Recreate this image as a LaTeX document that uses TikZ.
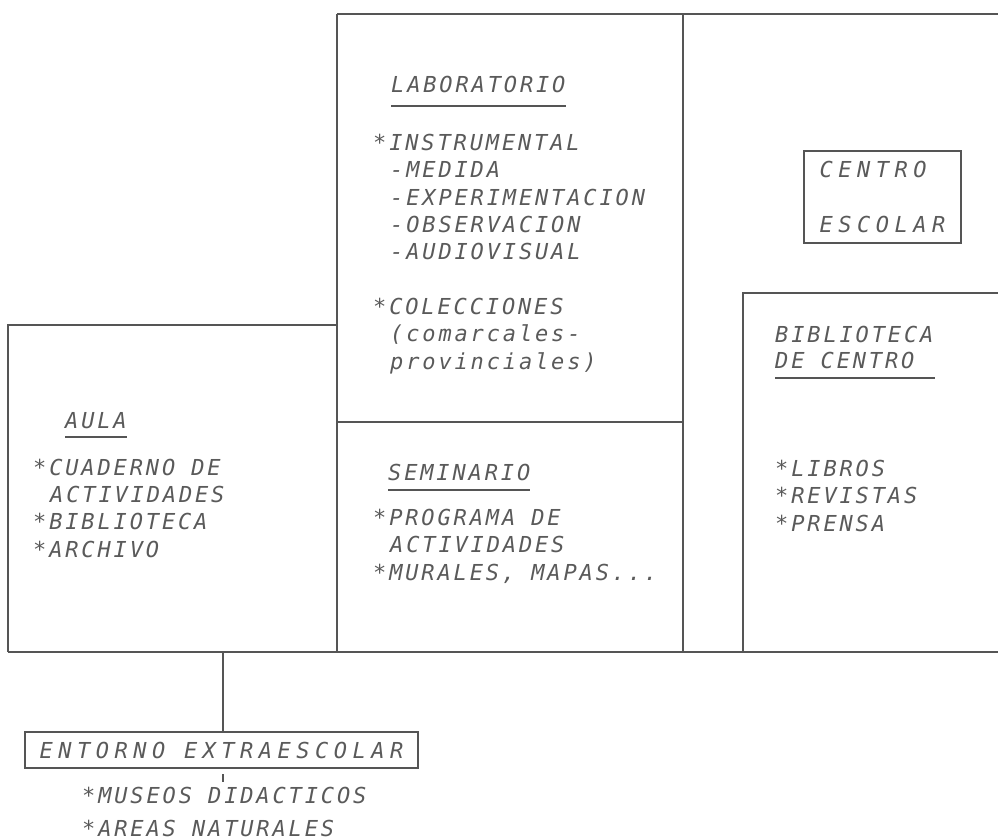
\documentclass[tikz,border=0pt]{standalone}
\usepackage{fontspec}
\newfontfamily\trazo{DejaVu Sans Mono}[LetterSpace=13]
\newfontfamily\trazoancho{DejaVu Sans Mono}[LetterSpace=25]
\definecolor{tinta}{HTML}{555555}
\definecolor{letra}{HTML}{5A5A5A}
\newcommand\sangria{\hspace*{17pt}}
\tikzset{
  linea/.style={draw=tinta, line width=2pt},
  texto/.style={anchor=base west, inner sep=0pt, align=left, text=letra,
    font=\trazo\itshape\fontsize{22}{27.3}\selectfont},
  caja/.style={linea, inner sep=0pt, text=letra, align=left,
    font=\trazoancho\itshape\fontsize{22}{27.5}\selectfont}
}
\begin{document}
\begin{tikzpicture}[x=1pt,y=-1pt]
    \useasboundingbox (0,0) rectangle (998,840);
    \draw[linea] (337,14) -- (998,14);
    \draw[linea] (337,14) -- (337,652);
    \draw[linea] (683,14) -- (683,652);
    \draw[linea] (8,652) -- (998,652);
    \draw[linea] (8,652) -- (8,325) -- (337,325);
    \draw[linea] (337,422) -- (683,422);
    \draw[linea] (743,652) -- (743,293) -- (998,293);

    % the anchor of a list is the baseline of its last line
    \node[texto] (lab) at (391,93) {LABORATORIO};
    \draw[linea] ([yshift=-13pt]lab.base west) -- ([yshift=-13pt]lab.base east);
    \node[texto] (labitems) at (373,369) {{*}INSTRUMENTAL\\ \sangria-MEDIDA\\ \sangria-EXPERIMENTACION\\
        \sangria-OBSERVACION\\ \sangria-AUDIOVISUAL\\[27.3pt] {*}COLECCIONES\\ \sangria(comarcales-\\ \sangria provinciales)};

    \node[texto] (sem) at (388,480) {SEMINARIO};
    \draw[linea] ([yshift=-10pt]sem.base west) -- ([yshift=-10pt]sem.base east);
    \node[texto] (semitems) at (373,580) {{*}PROGRAMA DE\\ \sangria ACTIVIDADES\\ {*}MURALES, MAPAS...};

    \node[texto] (aula) at (65,428) {AULA};
    \draw[linea] ([yshift=-9pt]aula.base west) -- ([yshift=-9pt]aula.base east);
    \node[texto] (aulaitems) at (33,557) {{*}CUADERNO DE\\ \sangria ACTIVIDADES\\ {*}BIBLIOTECA\\ {*}ARCHIVO};

    \node[caja, minimum width=157pt, minimum height=92pt] (centro) at (882.5,197) {CENTRO\\[27.5pt]ESCOLAR};

    \node[texto] (bibA) at (775,342) {BIBLIOTECA};
    \node[texto] (bibB) at (775,368) {DE CENTRO};
    \draw[linea] ([yshift=-10pt]bibB.base west) -- ++(160,0);
    \node[texto] (bibitems) at (775,531) {{*}LIBROS\\ {*}REVISTAS\\ {*}PRENSA};

    \coordinate (aulapie) at (223,652);
    \node[caja, minimum width=393pt, minimum height=36pt] (entorno) at (221.5,750) {ENTORNO EXTRAESCOLAR};
    \draw[linea] (aulapie) -- (entorno.north -| aulapie);
    \draw[linea] ([yshift=-5pt]entorno.south -| aulapie) -- ([yshift=-13pt]entorno.south -| aulapie);
    \node[texto] (fuera) at (82,836) {{*}MUSEOS DIDACTICOS\\[5pt] {*}AREAS NATURALES};
\end{tikzpicture}
\end{document}
